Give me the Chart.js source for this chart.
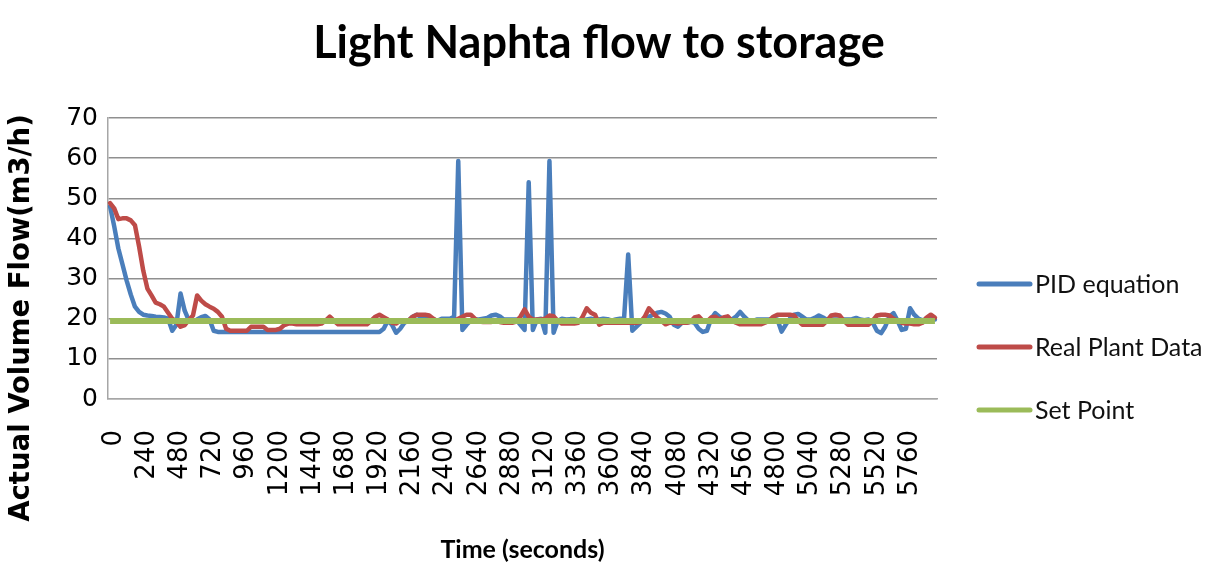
<!DOCTYPE html>
<html><head><meta charset="utf-8">
<script src="https://cdn.jsdelivr.net/npm/chart.js@4.4.1/dist/chart.umd.min.js"></script>
<style>html,body{margin:0;padding:0;background:#fff;}#wrap{width:1207px;height:565px;position:relative;}</style>
</head><body><div id="wrap"><canvas id="c" width="1207" height="565"></canvas></div>
<script>
const chartTitle = 'Light Naphta flow to storage';
const xAxisTitle = 'Time (seconds)';
const yAxisTitle = 'Actual Volume Flow(m3/h)';
const seriesNames = ['PID equation', 'Real Plant Data', 'Set Point'];

const timeSeconds = [
0,30,60,90,120,150,180,210,240,270,300,330,360,390,420,450,480,510,540,570,
600,630,660,690,720,750,780,810,840,870,900,930,960,990,1020,1050,1080,1110,1140,1170,
1200,1230,1260,1290,1320,1350,1380,1410,1440,1470,1500,1530,1560,1590,1620,1650,1680,1710,1740,1770,
1800,1830,1860,1890,1920,1950,1980,2010,2040,2070,2100,2130,2160,2190,2220,2250,2280,2310,2340,2370,
2400,2430,2460,2490,2520,2550,2580,2610,2640,2670,2700,2730,2760,2790,2820,2850,2880,2910,2940,2970,
3000,3030,3060,3090,3120,3150,3180,3210,3240,3270,3300,3330,3360,3390,3420,3450,3480,3510,3540,3570,
3600,3630,3660,3690,3720,3750,3780,3810,3840,3870,3900,3930,3960,3990,4020,4050,4080,4110,4140,4170,
4200,4230,4260,4290,4320,4350,4380,4410,4440,4470,4500,4530,4560,4590,4620,4650,4680,4710,4740,4770,
4800,4830,4860,4890,4920,4950,4980,5010,5040,5070,5100,5130,5160,5190,5220,5250,5280,5310,5340,5370,
5400,5430,5460,5490,5520,5550,5580,5610,5640,5670,5700,5730,5760,5790,5820,5850,5880,5910,5940,5970
];

const xTickLabels = [0,240,480,720,960,1200,1440,1680,1920,2160,2400,2640,2880,3120,3360,3600,3840,4080,4320,4560,4800,5040,5280,5520,5760];
const yTickMin = 0, yTickMax = 70, yTickStep = 10;

const pidEquation = [
48,43,37.5,33.5,29.5,26,23,21.7,21,20.8,
20.7,20.5,20.4,20.3,20,17,18.5,26.3,22,19.6,
19.3,19.8,20.4,20.7,19.8,17,16.7,16.7,16.7,16.7,
16.7,16.7,16.7,16.7,16.7,16.7,16.7,16.7,16.7,16.7,
16.7,16.7,16.7,16.7,16.7,16.7,16.7,16.7,16.7,16.7,
16.7,16.7,16.7,16.7,16.7,16.7,16.7,16.7,16.7,16.7,
16.7,16.7,16.7,16.7,16.7,16.7,17.5,19.5,18.5,16.5,
17.5,19,19.5,20.5,21,20.5,20,20,19.8,19.5,
20,20,20,20.5,59.3,17.2,18.5,19.5,19.8,19.8,
20,20.2,20.8,21,20.6,19.8,19.8,19.8,19.8,18.5,
17.2,54,17.2,19.8,20,16.5,59.3,16.5,19.5,20,
19.8,19.9,19.9,19.5,19.6,19.8,20,19.8,19.8,20,
19.9,19.5,19.8,20,20,36,17,18,19,20,
20.5,21,21.5,21.7,21.3,20.5,18.5,18,19,19,
19.3,19,17.5,16.7,17,20,21.4,20.5,20,19.8,
19.8,20.5,21.7,20.5,19.5,19.4,19.8,19.8,19.8,19.8,
19.8,19.8,16.8,18.5,20,21,21.2,20.5,19.8,19.8,
20.2,20.8,20.3,19.7,19.8,19.8,19.8,19.8,19.8,19.9,
20.2,19.8,19.6,19.8,19,17,16.4,18,20.5,21.4,
19.5,17.2,17.5,22.6,21,20,19.6,19.8,19.9,19.8
];

const realPlantData = [
48.8,47.5,44.8,45,45,44.5,43.3,38,32,27.5,
25.8,24,23.6,23,21.5,20,19.3,18,18.4,19.7,
20.8,25.8,24.5,23.6,23,22.5,21.7,20.5,17.5,17,
17,17,17,17,18,18,18,18,17.2,17.2,
17.2,17.5,18.4,18.8,18.8,18.6,18.6,18.6,18.6,18.6,
18.6,18.8,19.5,20.5,19.5,18.6,18.6,18.6,18.6,18.6,
18.6,18.6,18.6,19.5,20.5,21,20.4,19.8,19,18.8,
19.5,19.3,19.5,20.5,21,21,21,20.8,20,19.3,
19.3,19.3,19.3,19.5,20,20.5,21,21,20,19.3,
19.2,19.2,19.2,19.5,19.2,19,19,19,19.3,20.5,
22.3,20.5,19.8,19.8,19.8,20,20.8,20.6,19.5,18.8,
18.8,18.8,18.8,19,20.5,22.6,21.5,21,18.5,19,
19,19,19,19,19,19,19,19,19.2,20.5,
22.6,21.5,20.3,19.5,18.6,19,19,18.8,19,19,
19.2,20.3,20.6,19.5,19.3,20.3,20.5,19.8,20.3,20.6,
19.5,19,18.6,18.6,18.6,18.6,18.6,18.6,19,19.5,
20.5,21,21,21,21,20.8,19.5,18.5,18.5,18.5,
18.5,18.5,18.5,19.5,20.8,21,20.8,19.5,18.5,18.5,
18.5,18.5,18.5,18.5,19.5,20.8,21,21,20.8,20,
19.5,19,18.8,18.8,18.6,18.6,19,20.3,21,20.3
];

const setPointTimes = [0, 5970];
const setPointValues = [19.4, 19.4];

const seriesColors = ['#4a7ebb', '#be4b48', '#9bbb59'];

const overlayText = {
  id: 'overlayText',
  afterDraw(chart) {
    const ctx = chart.ctx;
    ctx.save();
    ctx.font = 'bold 45px Lato';
    ctx.fillStyle = '#000';
    ctx.textAlign = 'center';
    ctx.textBaseline = 'middle';
    ctx.fillText(chartTitle, 599, 43);
    ctx.restore();
    ctx.save();
    ctx.translate(22, 318);
    ctx.rotate(-Math.PI / 2);
    ctx.font = 'bold 27.5px "DejaVu Sans"';
    ctx.fillStyle = '#000';
    ctx.textAlign = 'center';
    ctx.textBaseline = 'middle';
    ctx.fillText(yAxisTitle, 0, 0);
    ctx.restore();
    chart.data.datasets.forEach((ds, i) => {
      const y = 284 + i * 63;
      ctx.save();
      ctx.strokeStyle = ds.borderColor;
      ctx.lineWidth = 5;
      ctx.lineCap = 'round';
      ctx.beginPath();
      ctx.moveTo(979, y);
      ctx.lineTo(1030, y);
      ctx.stroke();
      ctx.font = '25px Lato';
      ctx.fillStyle = '#111';
      ctx.textAlign = 'left';
      ctx.textBaseline = 'middle';
      ctx.fillText(ds.label, 1035, y + 1);
      ctx.restore();
    });
  }
};

new Chart(document.getElementById('c'), {
  type: 'line',
  data: {
    labels: timeSeconds.map(String),
    datasets: [
      { label: seriesNames[0], data: pidEquation, borderColor: seriesColors[0], backgroundColor: seriesColors[0],
        borderWidth: 4.5, pointRadius: 0, tension: 0, order: 3, borderJoinStyle: 'round', borderCapStyle: 'round' },
      { label: seriesNames[1], data: realPlantData, borderColor: seriesColors[1], backgroundColor: seriesColors[1],
        borderWidth: 4.5, pointRadius: 0, tension: 0, order: 2, borderJoinStyle: 'round', borderCapStyle: 'round' },
      { label: seriesNames[2], data: setPointTimes.map((t, i) => ({ x: String(t), y: setPointValues[i] })),
        borderColor: seriesColors[2], backgroundColor: seriesColors[2], borderWidth: 6, pointRadius: 0, order: 1 }
    ]
  },
  options: {
    responsive: false,
    animation: false,
    devicePixelRatio: 1,
    layout: { padding: { left: 0, right: 270, top: 118, bottom: 0 } },
    plugins: {
      legend: { display: false },
      tooltip: { enabled: false },
      title: { display: false }
    },
    scales: {
      x: {
        offset: true,
        grid: { display: false, drawTicks: false },
        border: { display: true, color: '#a6a6a6', width: 1.5 },
        ticks: {
          autoSkip: false, maxRotation: 90, minRotation: 90, padding: 31, labelOffset: 4, color: '#000',
          font: { family: 'DejaVu Sans', size: 26 },
          callback(val, idx) { const t = timeSeconds[idx]; return xTickLabels.includes(t) ? String(t) : ''; }
        },
        title: { display: true, text: xAxisTitle, color: '#000',
          font: { family: 'Lato', weight: 'bold', size: 25, lineHeight: 1 }, padding: { top: 0, bottom: 3 } },
        afterFit(s) { s.height = 166; }
      },
      y: {
        min: yTickMin, max: yTickMax,
        ticks: { stepSize: yTickStep, color: '#000', padding: 10, font: { family: 'DejaVu Sans', size: 25 } },
        grid: { color: (c) => (c.tick && c.tick.value === 0 ? '#b4b4b4' : '#8f8f8f'), lineWidth: 1.5, drawTicks: false },
        border: { display: true, color: '#a6a6a6', width: 1.5 },
        afterFit(s) { s.width = 108; }
      }
    }
  },
  plugins: [overlayText]
});
</script></body></html>
